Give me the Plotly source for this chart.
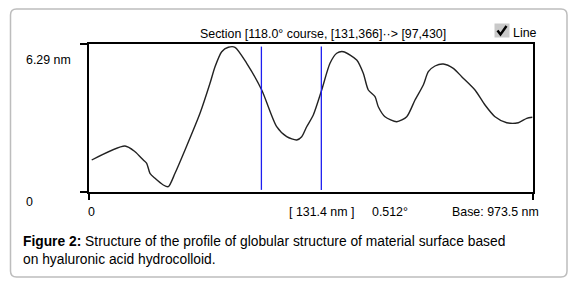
import plotly.graph_objects as go

W, H = 575, 286

# ---- data (nm) ----
profile_x = [5.9, 78.9, 100.9, 119.1, 126.5, 133.7, 144.7, 162.9, 173.9, 188.6,
             210.5, 243.4, 265.3, 276.3, 291.0, 305.4, 320.1, 345.8, 378.7, 411.5,
             433.5, 455.4, 466.4, 477.3, 491.8, 510.2, 528.4, 543.1, 557.6, 587.0,
             601.4, 612.4, 627.1, 634.3, 649.0, 674.7, 696.6, 714.8, 733.0, 744.0,
             758.6, 776.8, 798.8, 817.2, 846.3, 868.3, 890.2, 915.9, 941.3, 959.7, 972.0]
profile_z = [1.36, 1.955, 1.713, 1.36, 1.22, 0.795, 0.582, 0.298, 0.225, 0.795,
             1.785, 3.345, 4.62, 5.325, 5.963, 6.15, 6.15, 5.47, 4.335, 2.775,
             2.35, 2.21, 2.35, 2.775, 3.273, 4.335, 5.47, 5.895, 5.963, 5.61,
             5.045, 4.335, 4.05, 3.625, 3.2, 2.988, 3.2, 3.91, 4.548, 5.113,
             5.355, 5.44, 5.257, 4.9, 4.335, 3.698, 3.2, 2.945, 2.945, 3.132, 3.175]
cursor_x = [378.0, 509.4]
cursor_z = [0.09, 6.18]
x_ticks = [0, 973.5]
z_ticks = [0, 6.29]

title_text = "Section [118.0\u00b0 course, [131,366]\u00b7\u00b7> [97,430]"
z_labels = ["0", "6.29 nm"]
bottom_labels = ["0", "[ 131.4 nm ]", "0.512\u00b0", "Base: 973.5 nm"]
caption_bold = "Figure 2:"
caption_1 = " Structure of the profile of globular structure of material surface based"
caption_2 = "on hyaluronic acid hydrocolloid."

FONT = "Liberation Sans, Arial, sans-serif"

def px(x):
    return x / W

def py(y):
    return 1 - y / H

fig = go.Figure()
fig.add_trace(go.Scatter(x=profile_x, y=profile_z, mode="lines",
                         line=dict(color="#222222", width=1.4, shape="spline", smoothing=0.7),
                         hoverinfo="skip", showlegend=False))
for cx in cursor_x:
    fig.add_trace(go.Scatter(x=[cx, cx], y=cursor_z, mode="lines",
                             line=dict(color="#1e1ef0", width=1.3),
                             hoverinfo="skip", showlegend=False))

fig.update_layout(
    width=W, height=H, margin=dict(l=0, r=0, t=0, b=0),
    paper_bgcolor="white", plot_bgcolor="white",
    xaxis=dict(domain=[px(89), px(533)], range=[x_ticks[0], x_ticks[1]],
               showgrid=False, zeroline=False, showline=True, mirror=True,
               linecolor="black", linewidth=1.5, ticks="outside", ticklen=6,
               tickwidth=1.5, tickcolor="black", tickvals=x_ticks,
               showticklabels=False, fixedrange=True),
    yaxis=dict(domain=[py(192), py(44)], range=[z_ticks[0], z_ticks[1]],
               showgrid=False, zeroline=False, showline=True, mirror=True,
               linecolor="black", linewidth=1.5, ticks="outside", ticklen=7,
               tickwidth=1.5, tickcolor="black", tickvals=z_ticks,
               showticklabels=False, fixedrange=True),
    font=dict(family=FONT, color="black", size=12),
)

# outer rounded frame
x0, x1, y0, y1, r = 10.5, 567, 9, 277, 6
path = (f"M {px(x0+r)},{py(y0)} L {px(x1-r)},{py(y0)} Q {px(x1)},{py(y0)} {px(x1)},{py(y0+r)} "
        f"L {px(x1)},{py(y1-r)} Q {px(x1)},{py(y1)} {px(x1-r)},{py(y1)} "
        f"L {px(x0+r)},{py(y1)} Q {px(x0)},{py(y1)} {px(x0)},{py(y1-r)} "
        f"L {px(x0)},{py(y0+r)} Q {px(x0)},{py(y0)} {px(x0+r)},{py(y0)} Z")
fig.add_shape(type="path", path=path, xref="paper", yref="paper",
              line=dict(color="#bdbdbd", width=1.5), layer="below")

# checkbox
fig.add_shape(type="rect", xref="paper", yref="paper",
              x0=px(494.5), x1=px(509.5), y0=py(37.5), y1=py(23.5),
              fillcolor="#c9c9c9", line=dict(width=0))
fig.add_shape(type="path", xref="paper", yref="paper",
              path=f"M {px(497.5)},{py(30.5)} L {px(500.5)},{py(34.5)} L {px(506.5)},{py(26)}",
              line=dict(color="black", width=2.4))

def ann(text, x, y, xanchor="center", size=12.4, **kw):
    fig.add_annotation(text=text, x=px(x), y=py(y), xref="paper", yref="paper",
                       xanchor=xanchor, yanchor="middle", showarrow=False,
                       font=dict(family=FONT, size=size, color="black"), **kw)

ann(title_text, 323, 34)
ann("Line", 511, 33, xanchor="left")
ann(z_labels[1], 24, 60, xanchor="left")
ann(z_labels[0], 29, 202)
ann(bottom_labels[0], 91, 212)
ann(bottom_labels[1], 321.7, 212)
ann(bottom_labels[2], 390, 212)
ann(bottom_labels[3], 495, 212)

ann(f"<b>{caption_bold}</b>{caption_1}", 20.5, 241, xanchor="left", size=13.8)
ann(caption_2, 20.5, 259.5, xanchor="left", size=13.8)

fig.write_html("out.html", config={"displayModeBar": False},
               post_script="document.body.style.margin='0px';")
